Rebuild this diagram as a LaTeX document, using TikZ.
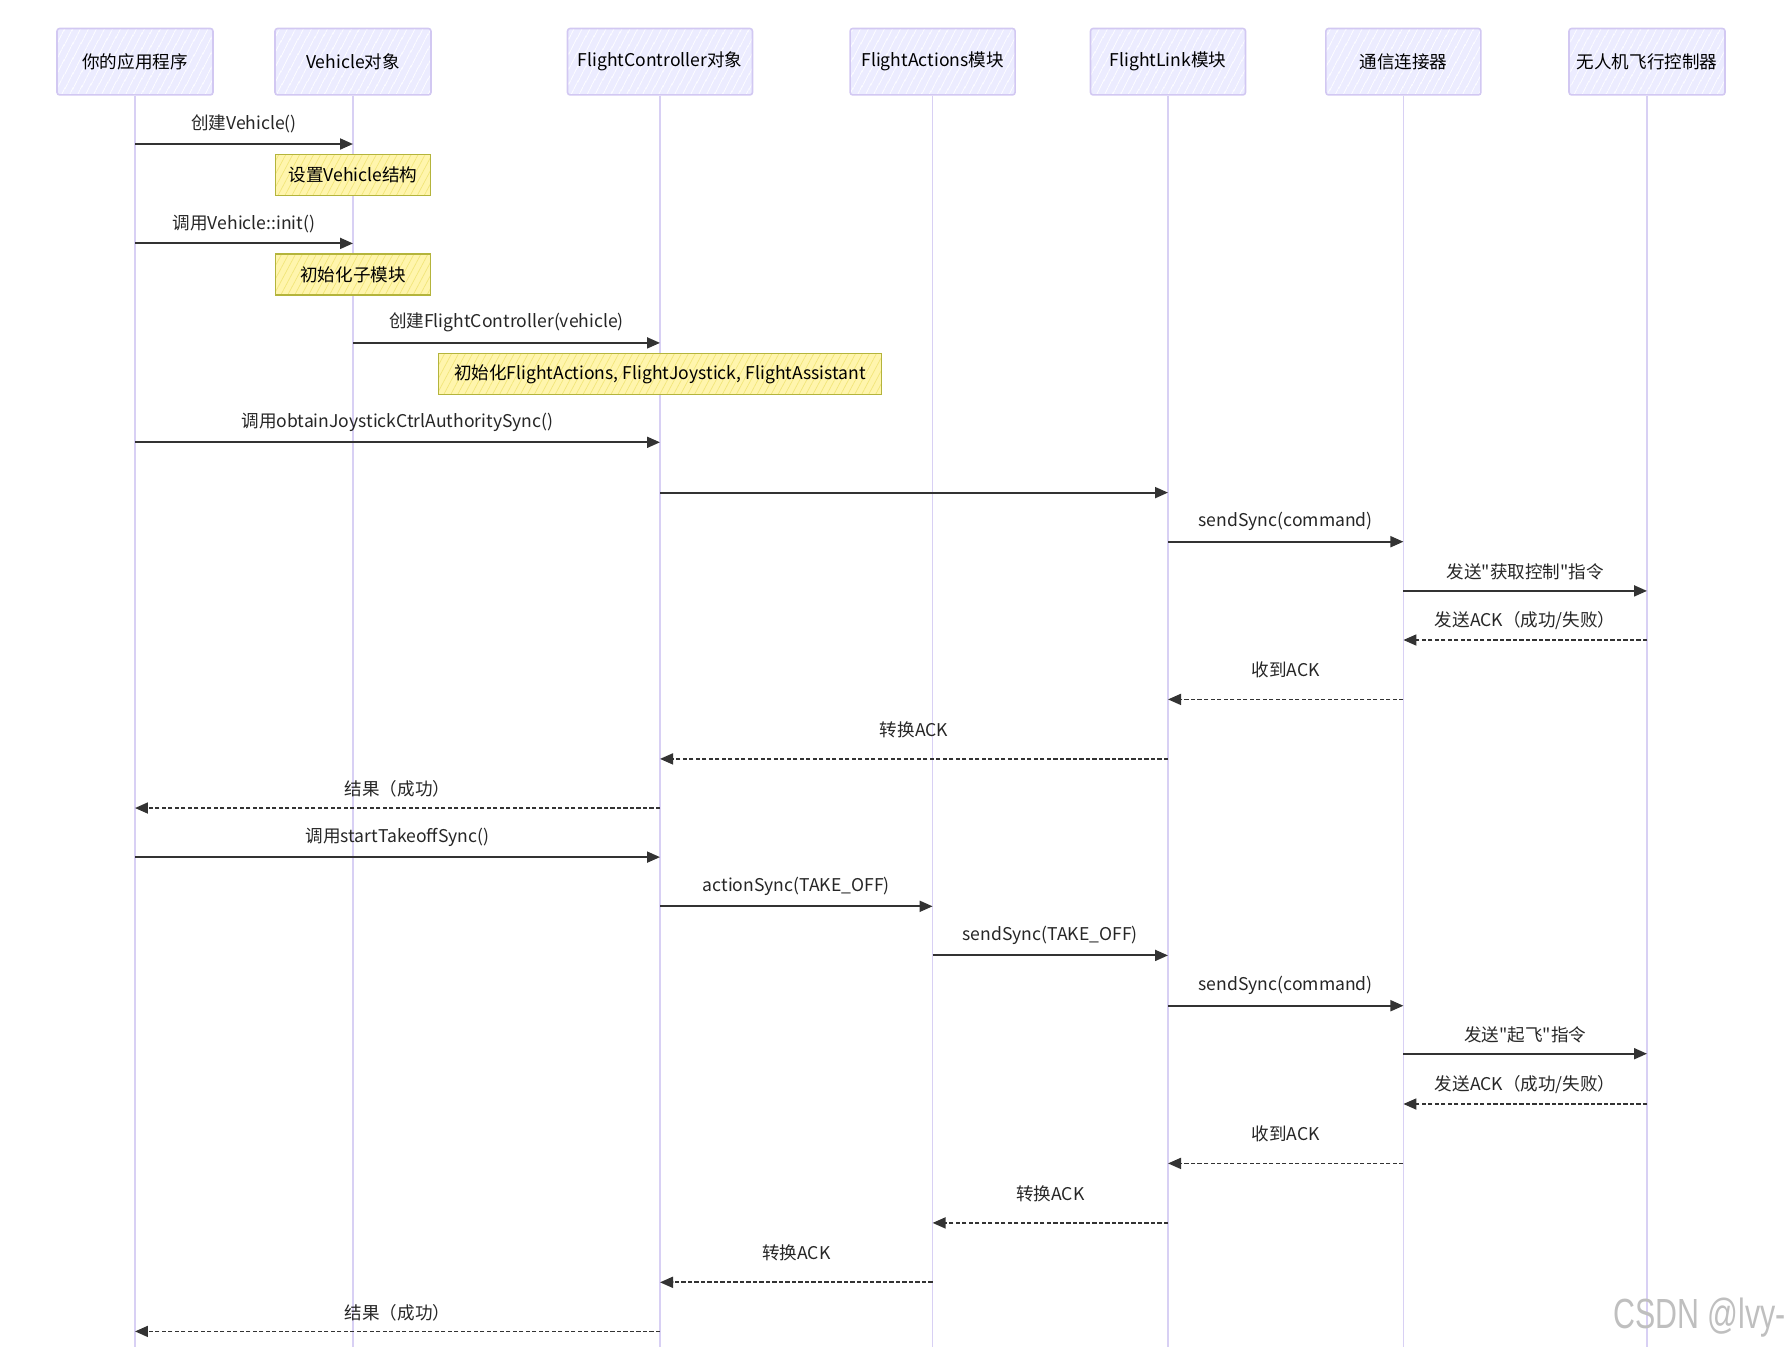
\documentclass[tikz,border=0pt]{standalone}
\usepackage{fontspec}
\newfontfamily\cjk{Noto Sans CJK SC}
\newfontfamily\wmfont{Liberation Sans}
\usetikzlibrary{positioning, arrows.meta, calc, patterns.meta}
\definecolor{actfill}{HTML}{ECECFF}
\definecolor{actline}{HTML}{D2C8F2}
\definecolor{lifeln}{HTML}{D8D0F4}
\definecolor{notefill}{HTML}{FFF5AD}
\definecolor{noteline}{HTML}{B4B43C}
\definecolor{notehatch}{HTML}{F2E67A}
\definecolor{msgcol}{HTML}{333333}
\tikzset{
  actor/.style={draw=actline, line width=0.9pt, rounded corners=1.5pt, minimum height=1.33cm, inner sep=2pt,
    preaction={fill=actfill}, preaction={pattern={Lines[angle=62,distance=4pt,line width=0.4pt]}, pattern color=white}},
  note/.style={draw=noteline, line width=0.9pt, minimum height=0.82cm, inner sep=2pt,
    preaction={fill=notefill}, preaction={pattern={Lines[angle=62,distance=3.5pt,line width=0.4pt]}, pattern color=notehatch}},
  life/.style={draw=lifeln, line width=0.9pt},
  arr/.style={-{Triangle[length=2.6mm,width=2.2mm]}, line width=1.1pt, draw=msgcol},
  barr/.style={-{Triangle[length=2.6mm,width=2.2mm]}, line width=1pt, draw=msgcol, dash pattern=on 2.5pt off 1.2pt},
  lab/.style={midway, above=4.5pt, inner sep=1pt, text=black!85},
  labw/.style={lab, above=10.5pt}
}

\begin{document}
\begin{tikzpicture}[x=0.02cm, y=-0.02cm, font=\cjk\fontsize{10}{12}\selectfont]
\useasboundingbox (0,0) rectangle (1792,1347);
% participants
\node[actor, minimum width=3.12cm] (app) at (135,61.7) {你的应用程序};
\node[actor, minimum width=3.12cm] (veh) at (353,61.7) {Vehicle对象};
\node[actor, minimum width=3.7cm] (fc) at (660,61.7) {FlightController对象};
\node[actor, minimum width=3.3cm] (fa) at (932.6,61.7) {FlightActions模块};
\node[actor, minimum width=3.1cm] (fl) at (1168,61.7) {FlightLink模块};
\node[actor, minimum width=3.1cm] (conn) at (1403.4,61.7) {通信连接器};
\node[actor, minimum width=3.12cm] (fcu) at (1647,61.7) {无人机飞行控制器};
\coordinate (bot) at (0,1347);
\foreach \p in {app, veh, fc, fa, fl, conn, fcu}
  \draw[life] (\p.south) -- (\p.south |- bot);
% message rows
\foreach \i/\y in {1/144, 2/243.4, 3/342.9, 4/442.3, 5/492.6, 6/541.7, 7/590.9,
  8/640, 9/699.4, 10/758.9, 11/808, 12/857.1, 13/906.3, 14/955.4, 15/1005.7,
  16/1053.7, 17/1104, 18/1163.4, 19/1222.9, 20/1282.3, 21/1331.4}
  \coordinate (m\i) at (0,\y);
\draw[arr] (app |- m1) -- node[lab] {创建Vehicle()} (veh |- m1);
\node[note, minimum width=3.1cm] (n1) at ($(veh |- m1)+(0,31)$) {设置Vehicle结构};
\draw[arr] (app |- m2) -- node[lab] {调用Vehicle::init()} (veh |- m2);
\node[note, minimum width=3.1cm] (n2) at ($(veh |- m2)+(0,31)$) {初始化子模块};
\draw[arr] (veh |- m3) -- node[lab] {创建FlightController(vehicle)} (fc |- m3);
\node[note, minimum width=8.86cm] (n3) at ($(fc |- m3)+(0,31)$) {初始化FlightActions, FlightJoystick, FlightAssistant};
\draw[arr] (app |- m4) -- node[lab] {调用obtainJoystickCtrlAuthoritySync()} (fc |- m4);
\draw[arr] (fc |- m5) -- (fl |- m5);
\draw[arr] (fl |- m6) -- node[lab] {sendSync(command)} (conn |- m6);
\draw[arr] (conn |- m7) -- node[lab] {发送"获取控制"指令} (fcu |- m7);
\draw[barr] (fcu |- m8) -- node[lab] {发送ACK（成功/失败）} (conn |- m8);
\draw[barr] (conn |- m9) -- node[labw] {收到ACK} (fl |- m9);
\draw[barr] (fl |- m10) -- node[labw] {转换ACK} (fc |- m10);
\draw[barr] (fc |- m11) -- node[lab] {结果（成功）} (app |- m11);
% takeoff
\draw[arr] (app |- m12) -- node[lab] {调用startTakeoffSync()} (fc |- m12);
\draw[arr] (fc |- m13) -- node[lab] {actionSync(TAKE\_OFF)} (fa |- m13);
\draw[arr] (fa |- m14) -- node[lab] {sendSync(TAKE\_OFF)} (fl |- m14);
\draw[arr] (fl |- m15) -- node[lab] {sendSync(command)} (conn |- m15);
\draw[arr] (conn |- m16) -- node[lab] {发送"起飞"指令} (fcu |- m16);
\draw[barr] (fcu |- m17) -- node[lab] {发送ACK（成功/失败）} (conn |- m17);
\draw[barr] (conn |- m18) -- node[labw] {收到ACK} (fl |- m18);
\draw[barr] (fl |- m19) -- node[labw] {转换ACK} (fa |- m19);
\draw[barr] (fa |- m20) -- node[labw] {转换ACK} (fc |- m20);
\draw[barr] (fc |- m21) -- node[lab] {结果（成功）} (app |- m21);
\node[text=black!25, font=\wmfont\fontsize{24}{24}\selectfont, anchor=east, inner sep=0pt] (wm) at (1786,1318) {\scalebox{0.72}[1]{CSDN @lvy-}};
\end{tikzpicture}
\end{document}
